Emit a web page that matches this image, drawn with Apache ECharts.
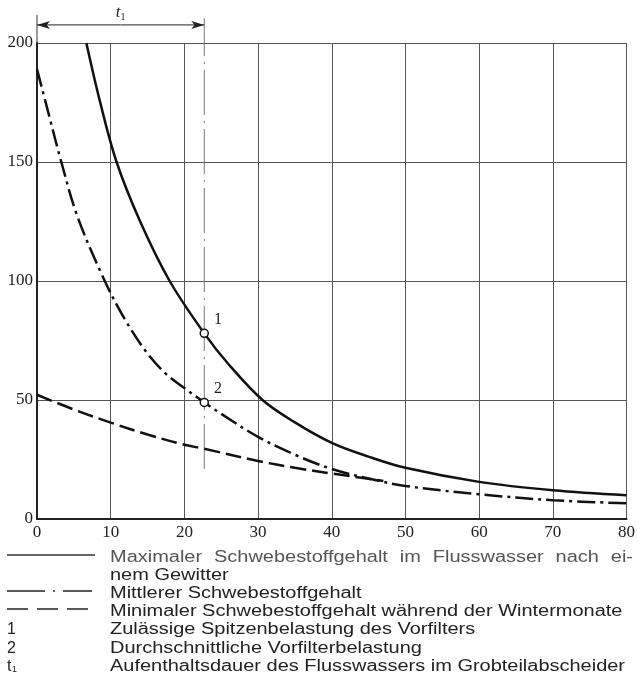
<!DOCTYPE html>
<html>
<head>
<meta charset="utf-8">
<script src="https://cdn.jsdelivr.net/npm/echarts@6/dist/echarts.min.js"></script>
<style>
html,body{margin:0;padding:0;background:#fff;}
#chart{width:638px;height:693px;}
</style>
</head>
<body>
<div id="chart"></div>
<script>
// ---- data ----
const xTicks = [0, 10, 20, 30, 40, 50, 60, 70, 80];
const yTicks = [0, 50, 100, 150, 200];

// Maximaler Schwebestoffgehalt (solid)
const maxX = [6.7, 8.5, 10.8, 14, 18, 22.7, 26, 30.6, 35, 40, 45, 50, 60, 70, 80];
const maxY = [200, 176, 150, 125, 100, 78, 65, 50, 40.6, 32, 26.2, 21.5, 15.6, 12.1, 10.0];

// Mittlerer Schwebestoffgehalt (dash-dot)
const midX = [0, 1.6, 3.3, 5.5, 9.2, 12, 15, 17.5, 20, 22.7, 25, 30, 35, 40, 45, 50, 60, 70, 80];
const midY = [189, 170, 150, 127, 100, 83.5, 69.5, 61, 55, 49, 44.2, 34.5, 27, 21, 17, 13.9, 10.4, 7.9, 6.6];

// Minimaler Schwebestoffgehalt (dashed)
const minX = [0, 5, 10, 15, 20, 22.7, 30, 35, 40, 45, 47];
const minY = [52.2, 46, 40.5, 35.5, 31.2, 29.5, 24.4, 21.5, 19.1, 16.9, 16.0];

// marked points 1 and 2
const pointLabels = ['1', '2'];
const pointX = [22.7, 22.7];
const pointY = [78, 49];

// residence time t1
const t1 = 22.7;
const t1LineBottom = 21;
const t1LineTop = 210.4;
const t1ArrowLevel = 207.6;
const leftTickTop = 211.8;

const legendLine1Words = ['Maximaler', 'Schwebestoffgehalt', 'im', 'Flusswasser', 'nach', 'ei-'];
const legendTexts = [
  'nem Gewitter',
  'Mittlerer Schwebestoffgehalt',
  'Minimaler Schwebestoffgehalt während der Wintermonate',
  'Zulässige Spitzenbelastung des Vorfilters',
  'Durchschnittliche Vorfilterbelastung',
  'Aufenthaltsdauer des Flusswassers im Grobteilabscheider'
];
const legendKeys = ['1', '2'];

// ---- build ----
const zip = (xs, ys) => xs.map((x, i) => [x, ys[i]]);
const SERIF = '"Liberation Serif", "Times New Roman", serif';
const SANS = '"Liberation Sans", Arial, sans-serif';
const FONT_PX = 16;
const FONT = FONT_PX + 'px ' + SANS;

const cv = document.createElement('canvas').getContext('2d');
cv.font = FONT;
const measure = t => cv.measureText(t).width;
const textLeft = 110;
const sx = (625 - textLeft) / measure(legendTexts[5]);

const rowY = [558, 576, 594, 612, 630, 648.5, 666.7];
const graphics = [];
{
  const widths = legendLine1Words.map(w => measure(w) * sx);
  const total = widths.reduce((a, b) => a + b, 0);
  const gap = (633 - textLeft - total) / (legendLine1Words.length - 1);
  let x = textLeft;
  legendLine1Words.forEach((w, i) => {
    graphics.push({type: 'text', x: x, y: rowY[0], scaleX: sx,
      style: {text: w, font: FONT, fill: '#555', verticalAlign: 'middle', align: 'left'}});
    x += widths[i] + gap;
  });
}
legendTexts.forEach((t, i) => {
  graphics.push({type: 'text', x: textLeft, y: rowY[i + 1], scaleX: sx,
    style: {text: t, font: FONT, fill: '#222', verticalAlign: 'middle', align: 'left'}});
});
graphics.push({type: 'line', shape: {x1: 7, y1: rowY[0] - 3, x2: 95, y2: rowY[0] - 3},
  style: {stroke: '#333', lineWidth: 1.3}});
graphics.push({type: 'line', shape: {x1: 7, y1: rowY[2] - 3, x2: 92, y2: rowY[2] - 3},
  style: {stroke: '#222', lineWidth: 1.6, lineDash: [38, 8, 2, 8]}});
graphics.push({type: 'line', shape: {x1: 7, y1: rowY[3] - 3, x2: 90, y2: rowY[3] - 3},
  style: {stroke: '#222', lineWidth: 1.6, lineDash: [21, 9]}});
legendKeys.forEach((k, i) => {
  graphics.push({type: 'text', x: 7, y: rowY[4 + i],
    style: {text: k, font: FONT, fill: '#222', verticalAlign: 'middle'}});
});
graphics.push({type: 'text', x: 7, y: rowY[6],
  style: {text: 't', font: FONT, fill: '#222', verticalAlign: 'middle'}});
graphics.push({type: 'text', x: 12, y: rowY[6] + 3,
  style: {text: '1', font: '9px ' + SANS, fill: '#222', verticalAlign: 'middle'}});

const axisCommon = {
  axisTick: {show: false},
  axisLine: {show: true, lineStyle: {color: '#222', width: 2}},
  splitLine: {show: true, lineStyle: {color: '#555', width: 1}},
};

const t1Rich = {
  t: {fontFamily: SERIF, fontStyle: 'italic', fontSize: 17, color: '#222'},
  s: {fontFamily: SERIF, fontSize: 10, color: '#222', padding: [8, 0, 0, 0]}
};

const option = {
  animation: false,
  backgroundColor: '#fff',
  grid: {left: 37, right: 1, top: 43, bottom: 174},
  xAxis: Object.assign({
    type: 'value', min: xTicks[0], max: xTicks[xTicks.length - 1], interval: 10,
    axisLabel: {fontFamily: SERIF, fontSize: 17, color: '#222', margin: 5}
  }, axisCommon),
  yAxis: Object.assign({
    type: 'value', min: yTicks[0], max: yTicks[yTicks.length - 1], interval: 50,
    axisLabel: {fontFamily: SERIF, fontSize: 17, color: '#222', margin: 4}
  }, axisCommon),
  graphic: graphics,
  series: [
    {
      type: 'line', data: zip(maxX, maxY), symbol: 'none', smooth: 0.35,
      lineStyle: {color: '#111', width: 2.5}, z: 5
    },
    {
      type: 'line', data: zip(midX, midY), symbol: 'none', smooth: 0.35,
      lineStyle: {color: '#111', width: 2.5, type: [18, 5, 3, 5]}, z: 5
    },
    {
      type: 'line', data: zip(minX, minY), symbol: 'none', smooth: 0.35,
      lineStyle: {color: '#111', width: 2.5, type: [16, 6]}, z: 5
    },
    {
      type: 'line', data: [[t1, t1LineBottom], [t1, t1LineTop]], symbol: 'none', clip: false,
      lineStyle: {color: '#777', width: 1, type: [45, 6, 2, 6]}, z: 3
    },
    {
      // t1 dimension arrow with its label in the middle
      type: 'line', clip: false, z: 4,
      data: [
        {value: [0, t1ArrowLevel], symbolRotate: 90},
        {value: [t1 / 2, t1ArrowLevel], symbolSize: 0.01,
          label: {show: true, position: 'top', distance: 3, formatter: '{t|t}{s|1}', rich: t1Rich}},
        {value: [t1, t1ArrowLevel], symbolRotate: -90}
      ],
      symbol: 'arrow', symbolSize: [6, 13], showSymbol: true, showAllSymbol: true,
      itemStyle: {color: '#222'},
      lineStyle: {color: '#222', width: 1},
      label: {show: false}
    },
    {
      type: 'line', data: [[0, 200], [0, leftTickTop]], symbol: 'none', clip: false,
      lineStyle: {color: '#333', width: 1}, z: 3
    },
    {
      type: 'scatter', data: zip(pointX, pointY), symbol: 'circle', symbolSize: 8,
      itemStyle: {color: '#fff', borderColor: '#111', borderWidth: 1.5, opacity: 1}, z: 10,
      label: {show: true, formatter: p => pointLabels[p.dataIndex], position: 'right',
        offset: [0, -14], fontFamily: SERIF, fontSize: 16, color: '#222'}
    }
  ]
};

echarts.init(document.getElementById('chart'), null, {renderer: 'canvas'}).setOption(option);
</script>
</body>
</html>
